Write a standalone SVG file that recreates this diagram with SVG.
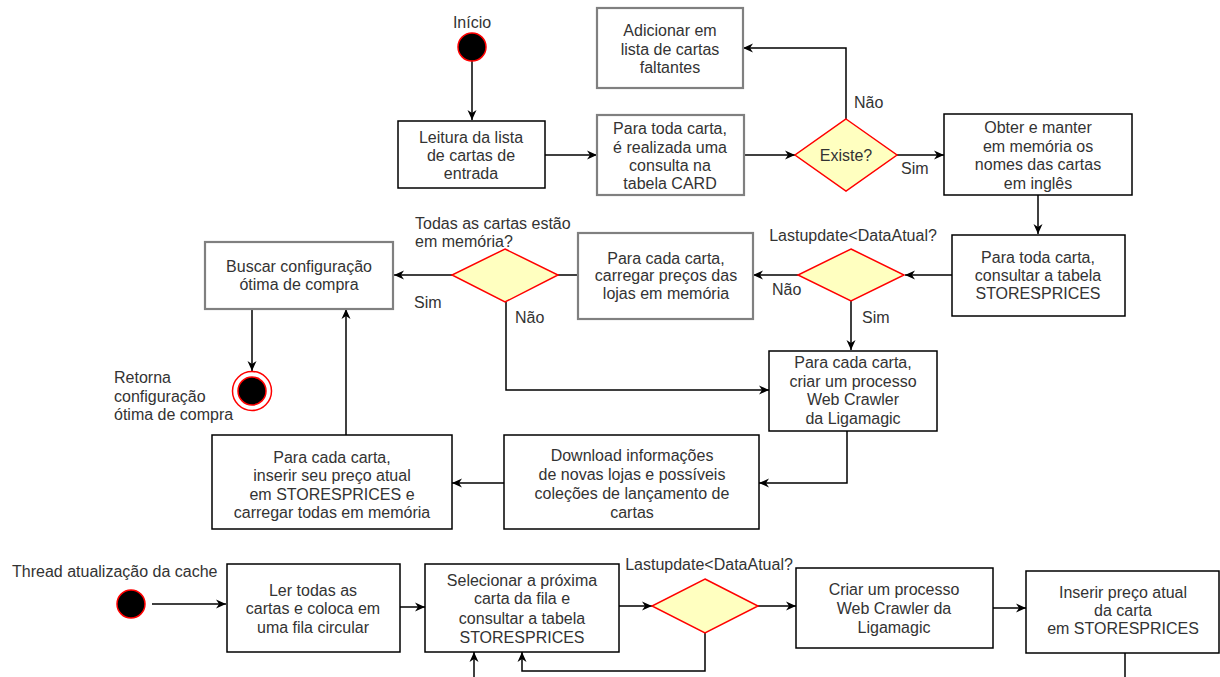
<svg xmlns="http://www.w3.org/2000/svg" width="1220" height="677" viewBox="0 0 1220 677">
<style>
text{font-family:"Liberation Sans",Arial,sans-serif;font-size:16px;fill:#333;dominant-baseline:central}
.c{text-anchor:middle}
.box{fill:#fff;stroke:#000;stroke-width:1.5}
.gbox{fill:#fff;stroke:#808080;stroke-width:2.2}
.dia{fill:#ffffc0;stroke:#ff0000;stroke-width:1.5}
.start{fill:#000;stroke:#ff0000;stroke-width:1.5}
.edge{fill:none;stroke:#000;stroke-width:1.5}
</style>
<defs>
<marker id="arr" viewBox="0 0 10 10" refX="10" refY="5" markerWidth="10" markerHeight="10" orient="auto" markerUnits="userSpaceOnUse">
<path d="M0,0.5 L10,5 L0,9.5 L3,5 z" fill="#000"/>
</marker>
</defs>
<g id="connectors">
<path class="edge" d="M472,61 V120" marker-end="url(#arr)"/>
<path class="edge" d="M545,155 H597" marker-end="url(#arr)"/>
<path class="edge" d="M744,155 H795" marker-end="url(#arr)"/>
<path class="edge" d="M846,119 V48 H743" marker-end="url(#arr)"/>
<path class="edge" d="M897,155 H944" marker-end="url(#arr)"/>
<path class="edge" d="M1038,195 V234" marker-end="url(#arr)"/>
<path class="edge" d="M952,275 H905" marker-end="url(#arr)"/>
<path class="edge" d="M798,275 H753" marker-end="url(#arr)"/>
<path class="edge" d="M851,301 V350" marker-end="url(#arr)"/>
<path class="edge" d="M578,275 H558"/>
<path class="edge" d="M452,275 H394" marker-end="url(#arr)"/>
<path class="edge" d="M506,302 V390 H769" marker-end="url(#arr)"/>
<path class="edge" d="M847,431 V483 H759" marker-end="url(#arr)"/>
<path class="edge" d="M504,483 H452" marker-end="url(#arr)"/>
<path class="edge" d="M346,435 V309" marker-end="url(#arr)"/>
<path class="edge" d="M252,309 V371" marker-end="url(#arr)"/>
<path class="edge" d="M152,604 H226" marker-end="url(#arr)"/>
<path class="edge" d="M400,607 H425" marker-end="url(#arr)"/>
<path class="edge" d="M619,606 H652" marker-end="url(#arr)"/>
<path class="edge" d="M758,606 H796" marker-end="url(#arr)"/>
<path class="edge" d="M993,608 H1026" marker-end="url(#arr)"/>
<path class="edge" d="M705,633 V671 H522 V652" marker-end="url(#arr)"/>
<path class="edge" d="M474,677 V652" marker-end="url(#arr)"/>
<path class="edge" d="M1125,653 V677"/>
</g>
<g id="labels">
<text x="854" y="102">Não</text>
<text x="901" y="168">Sim</text>
<text x="772" y="289">Não</text>
<text x="862" y="317">Sim</text>
<text x="414" y="302">Sim</text>
<text x="515" y="317">Não</text>
</g>
<g id="inicio">
<text class="c" x="472" y="22">Início</text>
<circle class="start" cx="472" cy="47" r="14"/>
</g>
<g id="leitura">
<rect class="box" x="398" y="121" width="147" height="67"/>
<text class="c" x="471" y="137">Leitura da lista</text>
<text class="c" x="471" y="155">de cartas de</text>
<text class="c" x="471" y="173">entrada</text>
</g>
<g id="adicionar">
<rect class="gbox" x="597" y="8" width="146" height="80"/>
<text class="c" x="670" y="30">Adicionar em</text>
<text class="c" x="670" y="49">lista de cartas</text>
<text class="c" x="670" y="67">faltantes</text>
</g>
<g id="consulta-card">
<rect class="gbox" x="597" y="115" width="147" height="80"/>
<text class="c" x="670" y="128">Para toda carta,</text>
<text class="c" x="670" y="147">é realizada uma</text>
<text class="c" x="670" y="165">consulta na</text>
<text class="c" x="670" y="183">tabela CARD</text>
</g>
<g id="existe">
<polygon class="dia" points="846,119 897,155 846,191 795,155"/>
<text class="c" x="846" y="155">Existe?</text>
</g>
<g id="obter">
<rect class="box" x="944" y="114" width="188" height="81"/>
<text class="c" x="1038" y="127">Obter e manter</text>
<text class="c" x="1038" y="146">em memória os</text>
<text class="c" x="1038" y="164">nomes das cartas</text>
<text class="c" x="1038" y="183">em inglês</text>
</g>
<g id="consultar-storesprices">
<rect class="box" x="952" y="235" width="173" height="81"/>
<text class="c" x="1038" y="257">Para toda carta,</text>
<text class="c" x="1038" y="275">consultar a tabela</text>
<text class="c" x="1038" y="293">STORESPRICES</text>
</g>
<g id="lastupdate1">
<text class="c" x="853" y="235">Lastupdate&lt;DataAtual?</text>
<polygon class="dia" points="851,249 904,275 851,301 798,275"/>
</g>
<g id="carregar">
<rect class="gbox" x="578" y="233" width="175" height="86"/>
<text class="c" x="666" y="258">Para cada carta,</text>
<text class="c" x="666" y="275">carregar preços das</text>
<text class="c" x="666" y="293">lojas em memória</text>
</g>
<g id="todas">
<text x="415" y="223">Todas as cartas estão</text>
<text x="415" y="241">em memória?</text>
<polygon class="dia" points="505,249 558,275 505,302 452,275"/>
</g>
<g id="buscar">
<rect class="gbox" x="205" y="242" width="188" height="67"/>
<text class="c" x="299" y="266">Buscar configuração</text>
<text class="c" x="299" y="284">ótima de compra</text>
</g>
<g id="fim">
<circle cx="252" cy="391" r="19.5" fill="#fff" stroke="#ff0000" stroke-width="1.5"/>
<circle class="start" cx="252" cy="391" r="14"/>
<text x="114" y="377">Retorna</text>
<text x="114" y="396">configuração</text>
<text x="114" y="414">ótima de compra</text>
</g>
<g id="criar-crawler">
<rect class="box" x="769" y="351" width="168" height="80"/>
<text class="c" x="853" y="362">Para cada carta,</text>
<text class="c" x="853" y="381">criar um processo</text>
<text class="c" x="853" y="399">Web Crawler</text>
<text class="c" x="853" y="418">da Ligamagic</text>
</g>
<g id="download">
<rect class="box" x="504" y="435" width="255" height="94"/>
<text class="c" x="632" y="455">Download informações</text>
<text class="c" x="632" y="474">de novas lojas e possíveis</text>
<text class="c" x="632" y="493">coleções de lançamento de</text>
<text class="c" x="632" y="512">cartas</text>
</g>
<g id="inserir">
<rect class="box" x="212" y="435" width="240" height="94"/>
<text class="c" x="332" y="457">Para cada carta,</text>
<text class="c" x="332" y="475">inserir seu preço atual</text>
<text class="c" x="332" y="494">em STORESPRICES e</text>
<text class="c" x="332" y="512">carregar todas em memória</text>
</g>
<g id="thread-start">
<text x="12" y="571">Thread atualização da cache</text>
<circle class="start" cx="131" cy="604" r="14"/>
</g>
<g id="ler-todas">
<rect class="box" x="227" y="564" width="173" height="88"/>
<text class="c" x="313" y="590">Ler todas as</text>
<text class="c" x="313" y="608">cartas e coloca em</text>
<text class="c" x="313" y="627">uma fila circular</text>
</g>
<g id="selecionar">
<rect class="box" x="425" y="564" width="194" height="88"/>
<text class="c" x="522" y="580">Selecionar a próxima</text>
<text class="c" x="522" y="598">carta da fila e</text>
<text class="c" x="522" y="618">consultar a tabela</text>
<text class="c" x="522" y="637">STORESPRICES</text>
</g>
<g id="lastupdate2">
<text class="c" x="709" y="564">Lastupdate&lt;DataAtual?</text>
<polygon class="dia" points="705,579 758,606 705,633 652,606"/>
</g>
<g id="criar-processo">
<rect class="box" x="796" y="568" width="197" height="80"/>
<text class="c" x="894" y="589">Criar um processo</text>
<text class="c" x="894" y="608">Web Crawler da</text>
<text class="c" x="894" y="627">Ligamagic</text>
</g>
<g id="inserir-preco">
<rect class="box" x="1026" y="571" width="193" height="82"/>
<text class="c" x="1123" y="592">Inserir preço atual</text>
<text class="c" x="1123" y="610">da carta</text>
<text class="c" x="1123" y="628">em STORESPRICES</text>
</g>
</svg>
